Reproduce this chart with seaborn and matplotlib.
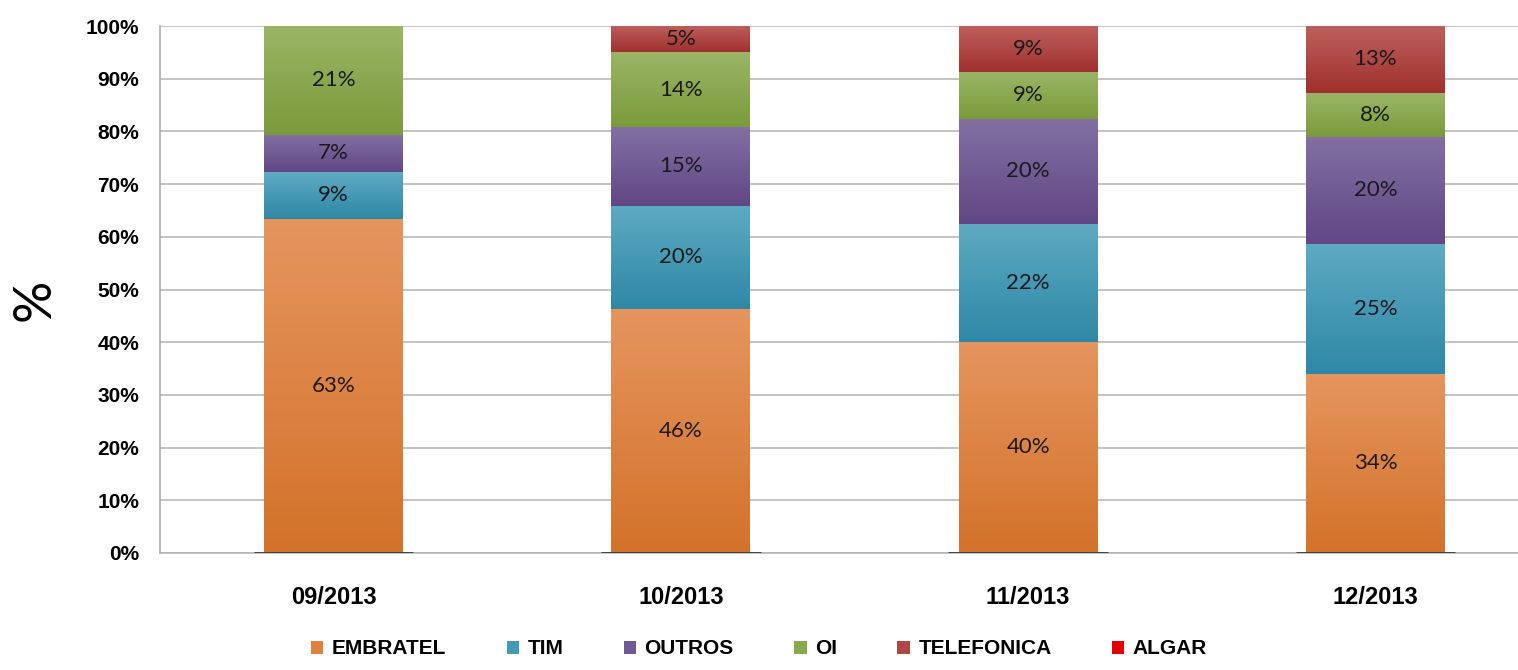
import matplotlib
matplotlib.use("Agg")
import matplotlib.pyplot as plt
from matplotlib.colors import LinearSegmentedColormap
from matplotlib.ticker import FixedLocator
import seaborn as sns
import numpy as np

sns.set_style("white")
plt.rcParams['font.family'] = ['Liberation Sans', 'DejaVu Sans']

# data (share of each operator, %)
months = ["09/2013", "10/2013", "11/2013", "12/2013"]
embratel = [63.4, 46.3, 40.1, 34.0]
tim = [8.9, 19.6, 22.4, 24.6]
outros = [7.1, 14.9, 19.9, 20.4]
oi = [20.6, 14.2, 8.9, 8.3]
telefonica = [0.0, 5.0, 8.7, 12.7]
algar = [0.0, 0.0, 0.0, 0.0]

series = ["EMBRATEL", "TIM", "OUTROS", "OI", "TELEFONICA", "ALGAR"]
values = [embratel, tim, outros, oi, telefonica, algar]
# (mid, top, bottom) colours imitating the Excel gradient fill
colors = {
    "EMBRATEL": ("#E0823D", "#E6955F", "#D3722A"),
    "TIM": ("#4499B5", "#5EAAC3", "#2E88A5"),
    "OUTROS": ("#705A95", "#8270A2", "#614786"),
    "OI": ("#89A94F", "#9BB567", "#7A9B3A"),
    "TELEFONICA": ("#AE4643", "#BD605D", "#A0302D"),
    "ALGAR": ("#E00000", "#FF2020", "#C00000"),
}

fig = plt.figure(figsize=(15.18, 6.70), dpi=100)
ax = fig.add_axes([160 / 1518, 1 - 553 / 670, 1389 / 1518, 527 / 670])

bottom = np.zeros(len(months))
for name, vals in zip(series, values):
    sns.barplot(x=months, y=vals, bottom=bottom.copy(), color=colors[name][0],
                width=0.4, label=name, edgecolor="none", linewidth=0,
                saturation=1, ax=ax, zorder=3)
    bottom += np.array(vals)

# gradient fill + value labels on each segment
grad = np.linspace(0, 1, 256).reshape(-1, 1)
for name, vals, cont in zip(series, values, ax.containers):
    cmap = LinearSegmentedColormap.from_list(name, [colors[name][2], colors[name][1]])
    for p in cont.patches:
        h = p.get_height()
        if h <= 0:
            continue
        x0, y0, w = p.get_x(), p.get_y(), p.get_width()
        im = ax.imshow(grad, extent=[x0, x0 + w, y0, y0 + h], origin="lower",
                       aspect="auto", cmap=cmap, zorder=3.5, interpolation="bilinear")
        im.set_clip_path(p)
    ax.bar_label(cont, labels=[f"{v:.0f}%" if v > 0 else "" for v in vals],
                 label_type="center", fontsize=16, color="#1a1a1a", zorder=5,
                 family=["Lato", "DejaVu Sans"])

# dark base line under each bar
for p in ax.containers[0].patches:
    x0, w = p.get_x(), p.get_width()
    ax.hlines(0, x0 - 0.03, x0 + w + 0.03, color="#3a3a3a", lw=2, zorder=6)

ax.set_xlim(-0.5, len(months) - 0.5)
ax.set_ylim(0, 100)
ax.set_yticks(np.arange(0, 101, 10))
ax.set_yticklabels([f"{t}%" for t in range(0, 101, 10)], fontsize=15,
                   fontweight="bold", color="black")
ax.xaxis.set_minor_locator(FixedLocator(np.arange(-0.5, len(months), 1.0)))
ax.tick_params(axis="x", which="major", length=0, pad=24, labelsize=17, labelcolor="black")
ax.tick_params(axis="x", which="minor", length=7, width=1, color="#A6A6A6", direction="out")
ax.tick_params(axis="y", length=6, width=1, color="#A6A6A6", direction="out", pad=9)
for lab in ax.get_xticklabels():
    lab.set_fontweight("bold")

ax.grid(axis="y", color="#B3B3B3", lw=1.1, zorder=0)
ax.set_axisbelow(True)
sns.despine(ax=ax, top=True, right=True)
ax.spines["left"].set_color("#A6A6A6")
ax.spines["left"].set_linewidth(1.1)
ax.spines["bottom"].set_color("#B3B3B3")
ax.spines["bottom"].set_linewidth(1.1)

ax.set_xlabel("")
ax.set_ylabel("%", fontsize=38, color="black", family=["Lato", "DejaVu Sans"])
ax.yaxis.label.set_va("center")
ax.yaxis.set_label_coords(-0.09, 0.48)

handles, labels = ax.get_legend_handles_labels()
if ax.get_legend() is not None:
    ax.get_legend().remove()
leg = fig.legend(handles, labels, loc="center", bbox_to_anchor=(0.5, 1 - 649 / 670),
                 ncol=6, frameon=False, handlelength=0.6, handleheight=0.6,
                 handletextpad=0.4, columnspacing=2.9,
                 prop={"weight": "bold", "size": 15})
for t in leg.get_texts():
    t.set_color("black")

fig.savefig("out.png", dpi=100)
